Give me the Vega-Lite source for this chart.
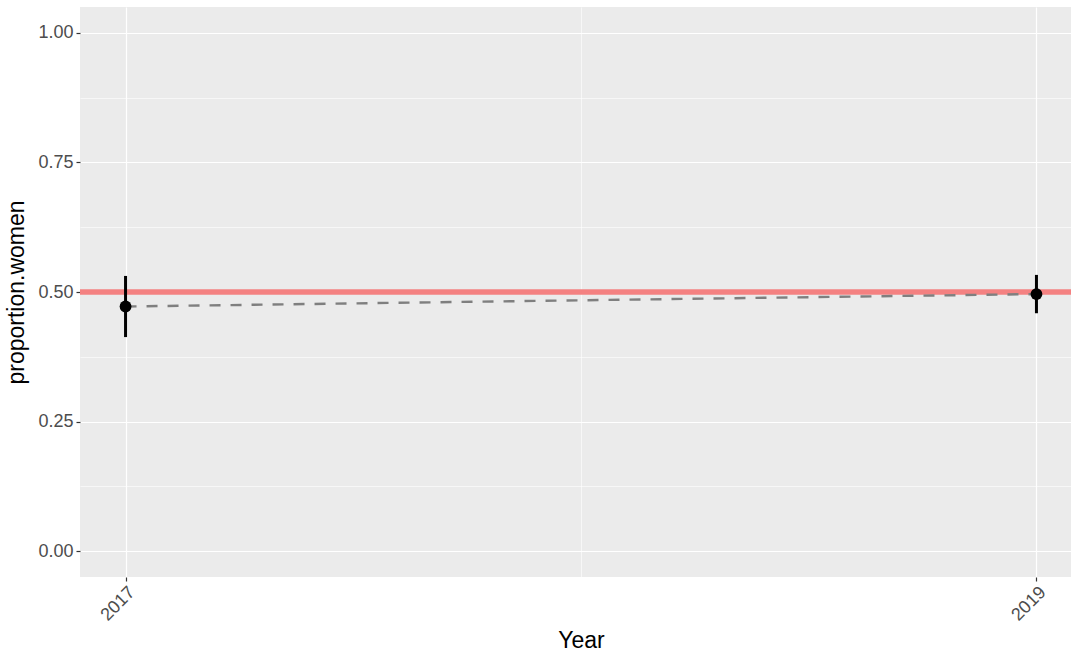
{
  "$schema": "https://vega.github.io/schema/vega-lite/v6.json",
  "width": 1002,
  "height": 570,
  "autosize": {"type": "none"},
  "padding": {"left": 80, "top": 7, "right": 0, "bottom": 77},
  "background": "white",
  "data": {"values": [
    {"Year": 2017, "proportion": 0.472, "lower": 0.413, "upper": 0.531},
    {"Year": 2019, "proportion": 0.496, "lower": 0.459, "upper": 0.533}
  ]},
  "encoding": {
    "x": {
      "field": "Year", "type": "quantitative",
      "scale": {"domain": [2016.9, 2019.1], "nice": false, "zero": false},
      "axis": {
        "title": "Year",
        "values": [2017, 2018, 2019],
        "format": "d",
        "labelExpr": "datum.value == 2018 ? '' : datum.label",
        "labelAngle": -45,
        "labelAlign": "right",
        "labelBaseline": "top",
        "labelPadding": 2,
        "titlePadding": 5,
        "gridWidth": {"condition": {"test": "datum.value == 2018", "value": 0.6}, "value": 1.2},
        "tickColor": {"condition": {"test": "datum.value == 2018", "value": "transparent"}, "value": "#333333"}
      }
    },
    "y": {
      "field": "proportion", "type": "quantitative",
      "scale": {"domain": [-0.05, 1.05], "nice": false, "zero": false},
      "axis": {
        "title": "proportion.women",
        "values": [0, 0.125, 0.25, 0.375, 0.5, 0.625, 0.75, 0.875, 1],
        "labelExpr": "(datum.value * 4) % 1 == 0 ? format(datum.value, '.2f') : ''",
        "titlePadding": 9,
        "gridWidth": {"condition": {"test": "(datum.value * 4) % 1 != 0", "value": 0.6}, "value": 1.2},
        "tickColor": {"condition": {"test": "(datum.value * 4) % 1 != 0", "value": "transparent"}, "value": "#333333"}
      }
    }
  },
  "layer": [
    {
      "mark": {"type": "rule", "color": "#F48181", "strokeWidth": 5},
      "encoding": {"y": {"datum": 0.5, "type": "quantitative"}, "x": null}
    },
    {
      "mark": {"type": "line", "color": "#7F7F7F", "strokeWidth": 2.4, "strokeDash": [11, 10]},
      "encoding": {}
    },
    {
      "mark": {"type": "rule", "color": "black", "strokeWidth": 3},
      "encoding": {"y": {"field": "lower", "type": "quantitative"}, "y2": {"field": "upper"}}
    },
    {
      "mark": {"type": "point", "filled": true, "shape": "circle", "color": "black", "opacity": 1, "size": 140},
      "encoding": {}
    }
  ],
  "config": {
    "view": {"fill": "#EBEBEB", "stroke": null},
    "axis": {
      "labelFont": "Liberation Sans",
      "titleFont": "Liberation Sans",
      "labelFontSize": 18,
      "labelColor": "#4D4D4D",
      "titleFontSize": 23,
      "titleFontWeight": "normal",
      "titleColor": "black",
      "gridColor": "white",
      "gridOpacity": 1,
      "domain": false,
      "tickSize": 4,
      "tickWidth": 1.2,
      "labelPadding": 3
    }
  }
}
